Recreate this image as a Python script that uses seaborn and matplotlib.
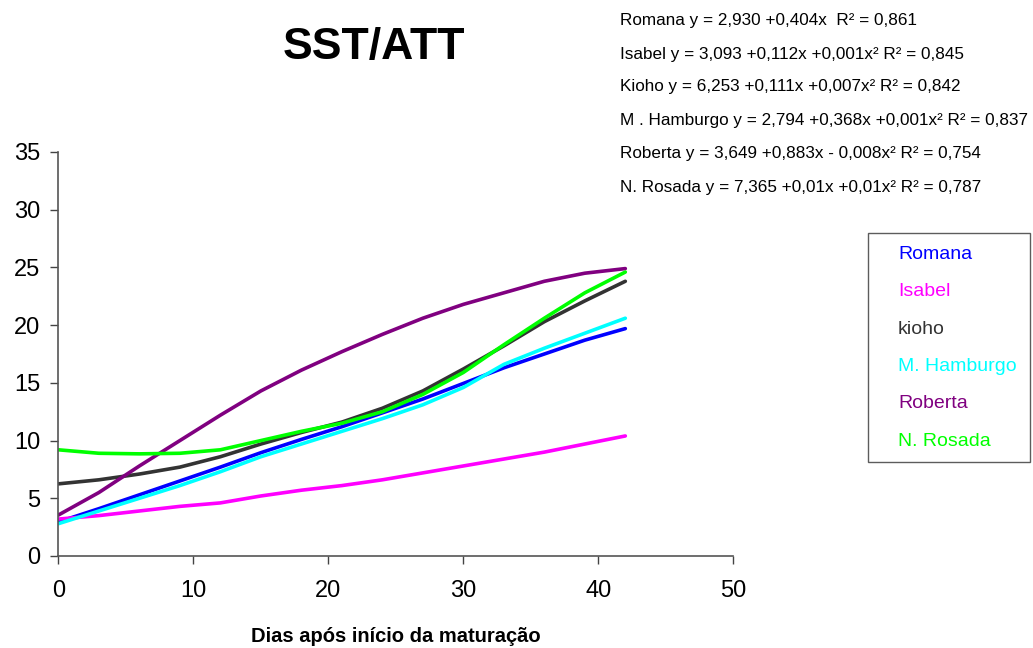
import matplotlib
matplotlib.use("Agg")
import matplotlib.pyplot as plt
import seaborn as sns
import pandas as pd

# ---- data ----
days = [0, 3, 6, 9, 12, 15, 18, 21, 24, 27, 30, 33, 36, 39, 42]
romana = [2.95, 4.1, 5.3, 6.5, 7.7, 8.95, 10.1, 11.2, 12.4, 13.6, 14.95, 16.3, 17.5, 18.7, 19.7]
isabel = [3.2, 3.5, 3.9, 4.3, 4.6, 5.2, 5.7, 6.1, 6.6, 7.2, 7.8, 8.4, 9.0, 9.7, 10.4]
kioho = [6.25, 6.6, 7.1, 7.7, 8.6, 9.7, 10.7, 11.6, 12.8, 14.3, 16.2, 18.2, 20.3, 22.1, 23.8]
hamburgo = [2.8, 3.9, 5.0, 6.1, 7.3, 8.6, 9.7, 10.8, 11.9, 13.1, 14.6, 16.6, 18.0, 19.3, 20.6]
roberta = [3.55, 5.5, 7.8, 10.0, 12.2, 14.3, 16.1, 17.7, 19.2, 20.6, 21.8, 22.8, 23.8, 24.5, 24.9]
rosada = [9.2, 8.9, 8.85, 8.9, 9.2, 10.0, 10.8, 11.5, 12.5, 14.0, 15.9, 18.3, 20.6, 22.8, 24.6]

series_names = ["Romana", "Isabel", "kioho", "M. Hamburgo", "Roberta", "N. Rosada"]
series_values = [romana, isabel, kioho, hamburgo, roberta, rosada]
series_colors = ["#0000FF", "#FF00FF", "#333333", "#00FFFF", "#800080", "#00FF00"]

x_ticks = [0, 10, 20, 30, 40, 50]
y_ticks = [0, 5, 10, 15, 20, 25, 30, 35]

title = "SST/ATT"
x_label = "Dias após início da maturação"
equations = [
    "Romana y = 2,930 +0,404x  R² = 0,861",
    "Isabel y = 3,093 +0,112x +0,001x² R² = 0,845",
    "Kioho y = 6,253 +0,111x +0,007x² R² = 0,842",
    "M . Hamburgo y = 2,794 +0,368x +0,001x² R² = 0,837",
    "Roberta y = 3,649 +0,883x - 0,008x² R² = 0,754",
    "N. Rosada y = 7,365 +0,01x +0,01x² R² = 0,787",
]

rows = []
for name, vals in zip(series_names, series_values):
    for d, v in zip(days, vals):
        rows.append({"dia": d, "valor": v, "cultivar": name})
df = pd.DataFrame(rows)

sns.set_style("white")
plt.rcParams["font.family"] = ["Liberation Sans", "DejaVu Sans"]
plt.rcParams["text.color"] = "black"

W, H = 1033, 648
fig = plt.figure(figsize=(W / 100, H / 100), dpi=100)
ax = fig.add_axes([58.4 / W, 1 - 556 / H, 674.9 / W, 404 / H])

sns.lineplot(data=df, x="dia", y="valor", hue="cultivar", hue_order=series_names,
             palette=dict(zip(series_names, series_colors)), linewidth=2.6,
             ax=ax, legend=False)

ax.set_xlim(0, 50)
ax.set_ylim(0, 35)
ax.set_xticks(x_ticks)
ax.set_yticks(y_ticks)
ax.set_xlabel("")
ax.set_ylabel("")
for s in ["top", "right"]:
    ax.spines[s].set_visible(False)
for s in ["left", "bottom"]:
    ax.spines[s].set_color("#555555")
    ax.spines[s].set_linewidth(1.2)
ax.tick_params(axis="both", direction="out", length=6, width=1.0, color="#444444",
               labelsize=17, labelcolor="black")
ax.tick_params(axis="x", pad=11, bottom=True)
ax.tick_params(axis="y", pad=7, left=True)

fig.text(374 / W, 1 - 47 / H, title, fontsize=32, fontweight="bold",
         ha="center", va="center", color="black")
fig.text(396 / W, 1 - 637 / H, x_label, fontsize=14.5, fontweight="bold",
         ha="center", va="center", color="black")

eq_y = [21, 54, 87, 120, 154, 187]
for txt, yy in zip(equations, eq_y):
    fig.text(620 / W, 1 - yy / H, txt, fontsize=12.3, ha="left", va="center",
             color="black")

# legend: coloured text only, framed box
handles = [plt.Line2D([], [], color=c, linewidth=0) for c in series_colors]
leg = fig.legend(handles, series_names, loc="upper left", mode="expand",
                 bbox_to_anchor=(868 / W, 1 - 461 / H, (1030 - 868) / W, 228 / H),
                 frameon=True, fancybox=False, handlelength=0, handletextpad=0,
                 fontsize=14, labelspacing=1.02, borderpad=0.62, borderaxespad=0)
leg.get_frame().set_edgecolor("#333333")
leg.get_frame().set_linewidth(1.0)
for t, c in zip(leg.get_texts(), series_colors):
    t.set_color(c)
    t.set_position((18, 0))

fig.savefig("out.png", dpi=100)
